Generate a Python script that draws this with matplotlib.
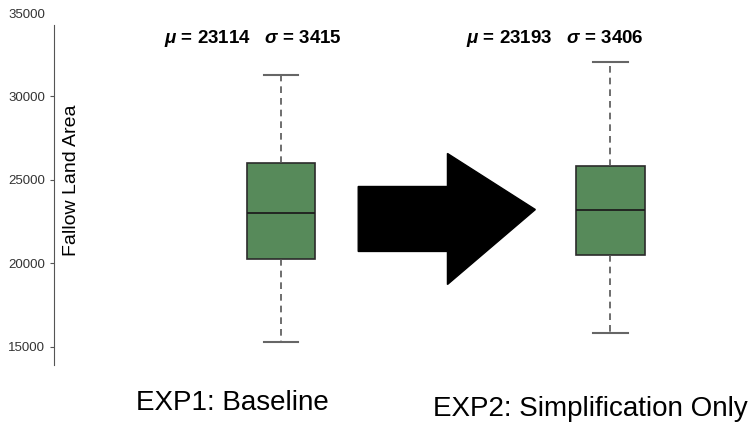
import matplotlib.pyplot as plt
from matplotlib.patches import Polygon

plt.rcParams["font.family"] = ["Liberation Sans", "DejaVu Sans"]
plt.rcParams["mathtext.fontset"] = "custom"
plt.rcParams["mathtext.it"] = "Liberation Sans:italic:bold"
plt.rcParams["mathtext.rm"] = "Liberation Sans:bold"

experiments = ["EXP1: Baseline", "EXP2: Simplification Only"]
means = [23114, 23193]
stds = [3415, 3406]
whisker_low = [15270, 15810]
q1 = [20240, 20480]
medians = [23050, 23230]
q3 = [25990, 25810]
whisker_high = [31260, 32040]

positions = [1, 2]
box_color = "#578a5a"

fig = plt.figure(figsize=(7.52, 4.23), dpi=100)
ax = fig.add_axes([54 / 752, 58 / 423, (752 - 54) / 752, (365 - 13) / 423])

stats = []
for i in range(len(experiments)):
    stats.append({
        "whislo": whisker_low[i], "q1": q1[i], "med": medians[i],
        "q3": q3[i], "whishi": whisker_high[i], "fliers": [],
    })

ax.bxp(
    stats, positions=positions, widths=0.207, patch_artist=True,
    boxprops=dict(facecolor=box_color, edgecolor="#2b2b2b", linewidth=1.2),
    medianprops=dict(color="#1e1e1e", linewidth=1.3),
    whiskerprops=dict(color="#555555", linewidth=1.2, linestyle=(0, (4, 3))),
    capprops=dict(color="#666666", linewidth=1.5),
    capwidths=0.105,
)

# annotations with mean and std
offsets = [-0.085, -0.17]
for pos, off, m, s in zip(positions, offsets, means, stds):
    ax.text(pos + off, 33470, rf"$\mu$ = {m}   $\sigma$ = {s}",
            ha="center", va="center", fontsize=13.5, fontweight="bold")

# big arrow between the boxes
x0, xb, xt = 1.234, 1.505, 1.772
body_lo, body_hi = 20720, 24610
head_lo, head_hi, tip_y = 18740, 26590, 23230
arrow = Polygon([(x0, body_lo), (x0, body_hi), (xb, body_hi), (xb, head_hi),
                 (xt, tip_y), (xb, head_lo), (xb, body_lo)],
                closed=True, facecolor="black", edgecolor="black")
ax.add_patch(arrow)

ax.set_xlim(0.31, 2.43)
ax.set_ylim(13920, 35000)
ax.set_yticks([15000, 20000, 25000, 30000, 35000])
ax.tick_params(axis="y", labelsize=9.5, labelcolor="#333333", color="#555555",
               length=3, direction="out")
ax.yaxis.get_major_ticks()[-1].tick1line.set_visible(False)
ax.set_xticks([])

for side in ["top", "right", "bottom"]:
    ax.spines[side].set_visible(False)
ax.spines["left"].set_color("#555555")
ax.spines["left"].set_bounds(13920, 34310)

ax.set_ylabel("Fallow Land Area", fontsize=14)
ax.yaxis.set_label_coords((80 - 54) / 698, 0.526)

fig.text(232 / 752, 1 - 403 / 423, experiments[0], ha="center", va="center", fontsize=20)
fig.text(590 / 752, 1 - 409 / 423, experiments[1], ha="center", va="center", fontsize=20)

fig.savefig("out.png", dpi=100)
